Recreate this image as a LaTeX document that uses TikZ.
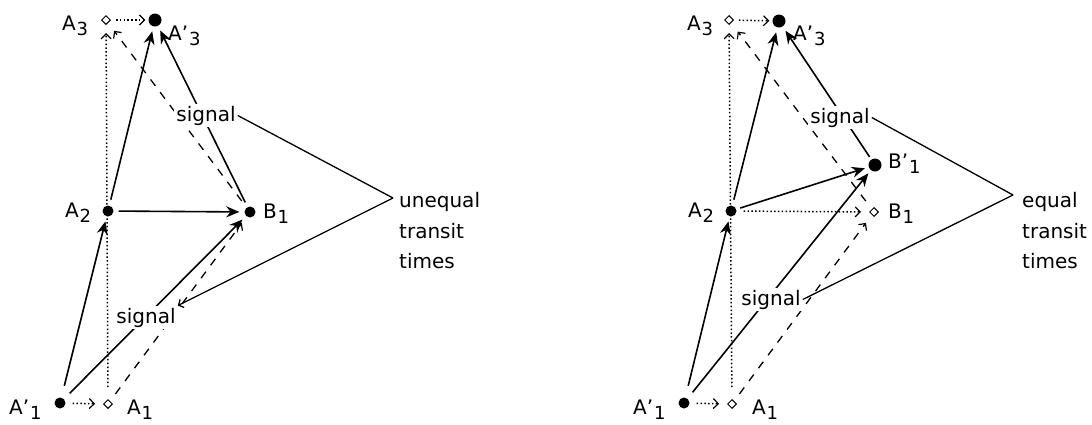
\documentclass[tikz,border=0pt]{standalone}
\usepackage{fontspec}
\setmainfont{DejaVu Sans}
\usetikzlibrary{arrows.meta,shapes.geometric}
\newcommand\lsub[1]{\kern0.8pt\raisebox{-5pt}{\fontsize{18}{18}\selectfont #1}}
\begin{document}
\begin{tikzpicture}[x=1pt,y=-1pt,font=\fontsize{20}{24}\selectfont,
  dotnode/.style={circle,fill=black,inner sep=0pt,minimum size=11pt},
  bigdot/.style={circle,fill=black,inner sep=0pt,minimum size=13pt},
  dmnd/.style={diamond,draw=black,line width=1pt,inner sep=0pt,minimum size=9pt},
  lbl/.style={inner sep=0pt,anchor=base west},
  sig/.style={fill=white,inner sep=2pt,anchor=base},
  solidarr/.style={line width=1.6pt,-{Stealth[length=13pt,width=11pt]}},
  dotarr/.style={line width=1.5pt,dash pattern=on 1.5pt off 2.3pt,-{Straight Barb[length=5pt,width=10pt,line width=1.2pt]}},
  dasharr/.style={line width=1.3pt,dash pattern=on 8pt off 8pt,-{Straight Barb[length=5pt,width=10pt,line width=1.2pt]}},
  conn/.style={line width=1.3pt}]
\useasboundingbox (0,0) rectangle (1092,424);
\fill[white] (0,0) rectangle (1092,424);

% ---------------- left diagram ----------------
\node[dotnode] (LA1p) at (60,403) {};
\node[dmnd]    (LA1)  at (108,404) {};
\node[dotnode] (LA2)  at (108,211) {};
\node[dmnd]    (LA3)  at (106,20) {};
\node[bigdot]  (LA3p) at (155,20) {};
\node[dotnode] (LB1)  at (250,212) {};

\draw[dotarr,shorten <=7pt,shorten >=8pt] (LA1p) -- (LA1);
\draw[dotarr,shorten <=12pt,shorten >=8pt] (LA1) -- (LA3);
\draw[dotarr,shorten <=5pt,shorten >=3pt] (LA3) -- (LA3p);
\draw[solidarr,shorten <=12pt,shorten >=5pt] (LA1p) -- (LA2);
\draw[solidarr,shorten <=6pt,shorten >=5pt] (LA2) -- (LA3p);
\draw[solidarr,shorten <=5pt,shorten >=5pt] (LA2) -- (LB1);
\draw[solidarr,shorten <=5pt,shorten >=5pt] (LB1) -- (LA3p);
\draw[solidarr,shorten <=8pt,shorten >=5pt] (LA1p) -- (LB1);
\draw[dasharr,shorten <=9pt,shorten >=8pt] (LA1) -- (LB1);
\draw[dasharr,shorten <=8pt,shorten >=10pt] (LB1) -- (LA3);

\node[lbl] (tLA1p) at (9,414) {A’\lsub{1}};
\node[lbl] (tLA1)  at (127,414) {A\lsub{1}};
\node[lbl] (tLA2)  at (65,217) {A\lsub{2}};
\node[lbl] (tLA3)  at (62,30) {A\lsub{3}};
\node[lbl] (tLA3p) at (168,40) {A’\lsub{3}};
\node[lbl] (tLB1)  at (263,218) {B\lsub{1}};

\node[sig] (sigLU) at (206,121) {signal};
\node[sig] (sigLL) at (146,323) {signal};
\coordinate (vL) at (393,198);
\draw[conn] (sigLU.east) -- (vL);
\draw[conn,-{Straight Barb[length=4pt,width=9pt]}] (vL) -- (sigLL.north east);
\node[lbl] (uneq) at (399,207) {unequal};
\node[lbl] (trL)  at (399,238) {transit};
\node[lbl] (tiL)  at (399,268) {times};

% ---------------- right diagram ----------------
\node[dotnode] (RA1p) at (684,403) {};
\node[dmnd]    (RA1)  at (732,404) {};
\node[dotnode] (RA2)  at (731,211) {};
\node[dmnd]    (RA3)  at (729,20) {};
\node[bigdot]  (RA3p) at (779,21) {};
\node[bigdot]  (RB1p) at (875,165) {};
\node[dmnd]    (RB1)  at (874,212) {};

\draw[dotarr,shorten <=7pt,shorten >=8pt] (RA1p) -- (RA1);
\draw[dotarr,shorten <=12pt,shorten >=8pt] (RA1) -- (RA3);
\draw[dotarr,shorten <=5pt,shorten >=3pt] (RA3) -- (RA3p);
\draw[dotarr,shorten <=7pt,shorten >=8pt] (RA2) -- (RB1);
\draw[solidarr,shorten <=12pt,shorten >=5pt] (RA1p) -- (RA2);
\draw[solidarr,shorten <=6pt,shorten >=5pt] (RA2) -- (RA3p);
\draw[solidarr,shorten <=4pt,shorten >=4pt] (RA2) -- (RB1p);
\draw[solidarr,shorten <=3pt,shorten >=5pt] (RB1p) -- (RA3p);
\draw[solidarr,shorten <=8pt,shorten >=4pt] (RA1p) -- (RB1p);
\draw[dasharr,shorten <=9pt,shorten >=10pt] (RA1) -- (RB1);
\draw[dasharr,shorten <=10pt,shorten >=11pt] (RB1) -- (RA3);

\node[lbl] (tRA1p) at (633,414) {A’\lsub{1}};
\node[lbl] (tRA1)  at (752,414) {A\lsub{1}};
\node[lbl] (tRA2)  at (688,217) {A\lsub{2}};
\node[lbl] (tRA3)  at (687,30) {A\lsub{3}};
\node[lbl] (tRA3p) at (793,40) {A’\lsub{3}};
\node[lbl] (tRB1p) at (888,168) {B’\lsub{1}};
\node[lbl] (tRB1)  at (888,218) {B\lsub{1}};

\node[sig] (sigRU) at (840,123) {signal};
\node[sig] (sigRL) at (771,305) {signal};
\coordinate (vR) at (1013,195);
\draw[conn] (sigRU.east) -- (vR);
\draw[conn] (vR) -- (sigRL.east);
\node[lbl] (eq)  at (1022,207) {equal};
\node[lbl] (trR) at (1022,238) {transit};
\node[lbl] (tiR) at (1022,268) {times};
\end{tikzpicture}
\end{document}
